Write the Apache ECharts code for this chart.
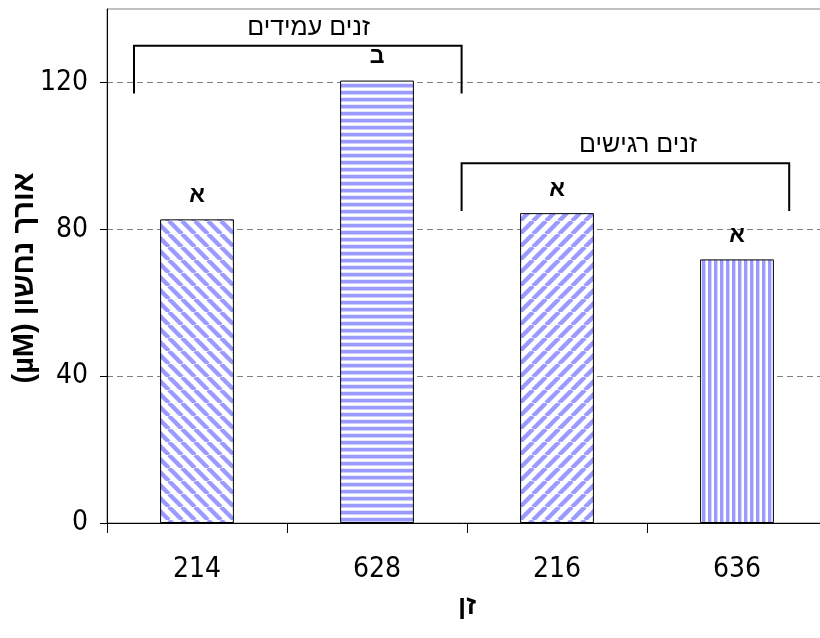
<!DOCTYPE html>
<html lang="he">
<head>
<meta charset="utf-8">
<title>אורך נחשון לפי זן</title>
<script src="https://cdn.jsdelivr.net/npm/echarts@6/dist/echarts.min.js"></script>
<style>
  html, body { margin: 0; padding: 0; background: #ffffff; }
  #chart { width: 820px; height: 638px; }
</style>
</head>
<body>
<div id="chart"></div>
<script>
// Cultivars and mean tendril length
const cultivars = ['214', '628', '216', '636'];
const tendrilLength = [82.7, 120.5, 84.4, 71.8];
const sigLetters = ['א', 'ב', 'א', 'א'];
const yTicks = [0, 40, 80, 120];
const xTitle = 'זן';
const yTitle = '\u202Bאורך נחשון (µM)\u202C';

// Cultivar groups drawn as brackets above the bars
const groupNames = ['זנים עמידים', 'זנים רגישים'];
const groupFrom = [-0.35, 1.47];   // category position where bracket starts
const groupTo = [1.47, 3.29];      // category position where bracket ends
const groupTop = [130, 98];        // value of the bracket's horizontal line
const groupLegEnd = [117, 85];     // value where the bracket legs end
const groupTextAt = [0.62, 2.45];  // category position of the group caption

const numFont = "'Liberation Sans Narrow', 'Arial Narrow', 'DejaVu Sans Condensed', sans-serif";
const hebFont = "'Liberation Sans', Arial, 'DejaVu Sans', sans-serif";

const BLUE = '#9a9aff';
const PALE = '#ffffff';

// Fill patterns for the bars
function tile(w, h, draw) {
  const c = document.createElement('canvas');
  c.width = w; c.height = h;
  const g = c.getContext('2d');
  g.fillStyle = PALE;
  g.fillRect(0, 0, w, h);
  draw(g, w, h);
  return c;
}
function diagonal(down) {
  return tile(13, 13, function (g, w, h) {
    g.strokeStyle = BLUE;
    g.lineWidth = 4.4;
    for (let k = -1; k <= 2; k++) {
      g.beginPath();
      if (down) { g.moveTo(k * w - w, 0); g.lineTo(k * w, h); }
      else { g.moveTo(k * w, 0); g.lineTo(k * w - w, h); }
      g.stroke();
    }
  });
}
function horizontal() {
  return tile(7, 7, function (g, w, h) {
    g.fillStyle = BLUE;
    g.fillRect(0, 0, w, 3);
    g.fillStyle = '#cfcfff';
    g.fillRect(0, 3, w, 1);
    g.fillStyle = '#e6e6ff';
    g.fillRect(0, 6, w, 1);
  });
}
function vertical() {
  return tile(6, 6, function (g, w, h) {
    g.fillStyle = BLUE;
    g.fillRect(0, 0, 3, h);
    g.fillStyle = '#d6d6ff';
    g.fillRect(3, 0, 1, h);
  });
}
const patterns = [diagonal(true), horizontal(), diagonal(false), vertical()];

const chart = echarts.init(document.getElementById('chart'), null, { renderer: 'canvas' });

const option = {
  animation: false,
  backgroundColor: '#ffffff',
  grid: {
    left: 107, top: 9, right: -7, bottom: 115,
    show: true, borderColor: '#808080', borderWidth: 1,
    containLabel: false, outerBoundsMode: 'none'
  },
  xAxis: {
    type: 'category',
    data: cultivars,
    axisLine: { lineStyle: { color: '#000', width: 1 } },
    axisTick: { show: true, length: 10, alignWithLabel: false, lineStyle: { color: '#000' } },
    axisLabel: { fontFamily: numFont, fontSize: 28, color: '#000', margin: 33 }
  },
  yAxis: {
    type: 'value',
    min: 0, max: 140, interval: 40,
    axisLine: { show: true, lineStyle: { color: '#000', width: 1 } },
    axisTick: { show: true, length: 7, lineStyle: { color: '#000' }, customValues: yTicks },
    axisLabel: {
      fontFamily: numFont, fontSize: 28, color: '#000', margin: 19,
      formatter: function (v) { return yTicks.indexOf(v) >= 0 ? String(v) : ''; }
    },
    splitLine: { show: true, lineStyle: { color: '#808080', type: [6, 4], width: 1 } }
  },
  series: [{
    type: 'bar',
    barWidth: '41%',
    data: tendrilLength.map(function (v, i) {
      return {
        value: v,
        itemStyle: { color: { image: patterns[i], repeat: 'repeat' } },
        label: { formatter: sigLetters[i] }
      };
    }),
    itemStyle: { borderColor: '#000', borderWidth: 1 },
    label: {
      show: true, position: 'top', distance: 12,
      fontFamily: hebFont, fontWeight: 'bold', fontSize: 23, color: '#000'
    }
  }]
};
chart.setOption(option);

// Group brackets and axis titles, placed through the axes' own scales
function catX(pos) {
  const a = chart.convertToPixel({ xAxisIndex: 0 }, 0);
  const b = chart.convertToPixel({ xAxisIndex: 0 }, 1);
  return a + (b - a) * pos;
}
function valY(v) { return chart.convertToPixel({ yAxisIndex: 0 }, v); }

const graphics = [];
groupNames.forEach(function (name, i) {
  const x1 = catX(groupFrom[i]), x2 = catX(groupTo[i]);
  const yt = valY(groupTop[i]), yb = valY(groupLegEnd[i]);
  graphics.push({
    type: 'polyline',
    shape: { points: [[x1, yb], [x1, yt], [x2, yt], [x2, yb]] },
    style: { stroke: '#000', lineWidth: 2, fill: null }
  });
  graphics.push({
    type: 'text',
    x: catX(groupTextAt[i]), y: yt - 18,
    style: {
      text: name, fontFamily: hebFont, fontSize: 25, fill: '#000',
      align: 'center', verticalAlign: 'middle'
    }
  });
});

// Axis titles
graphics.push({
  type: 'text',
  x: 25, y: (valY(0) + valY(140)) / 2 + 12,
  rotation: Math.PI / 2,
  style: {
    text: yTitle, fontFamily: hebFont, fontWeight: 'bold', fontSize: 29, fill: '#000',
    align: 'center', verticalAlign: 'middle'
  }
});
graphics.push({
  type: 'text',
  x: catX(1.5), y: 607,
  style: {
    text: xTitle, fontFamily: hebFont, fontWeight: 'bold', fontSize: 27, fill: '#000',
    align: 'center', verticalAlign: 'middle'
  }
});
chart.setOption({ graphic: graphics });
</script>
</body>
</html>
